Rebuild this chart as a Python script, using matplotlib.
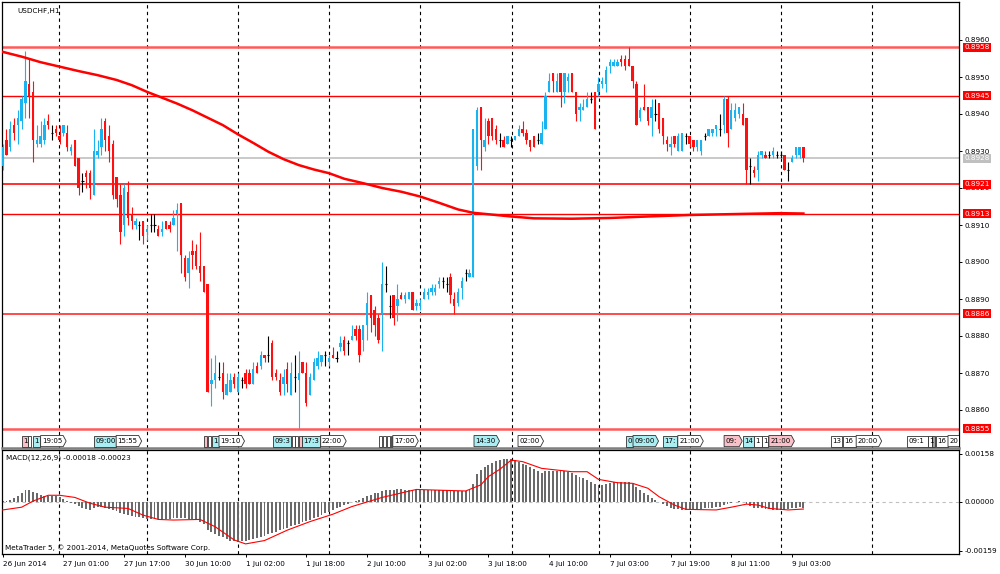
import matplotlib
matplotlib.use("Agg")
import matplotlib.pyplot as plt
from matplotlib.patches import Polygon
from matplotlib.transforms import blended_transform_factory

# USDCHF H1, one entry per bar (bar 0 = 26 Jun 2014 09:00)
opens = [
    0.8926, 0.8933, 0.8931, 0.8937, 0.8937, 0.8938, 0.8943, 0.8948, 0.8946, 0.8932,
    0.8932, 0.8933, 0.8938, 0.8935, 0.8936, 0.8934, 0.8935, 0.8935, 0.8930, 0.8933,
    0.8928, 0.8922, 0.8924, 0.8924, 0.8918, 0.8929, 0.8931, 0.8938, 0.8934, 0.8932,
    0.8923, 0.8918, 0.8910, 0.8919, 0.8913, 0.8910, 0.8910, 0.8911, 0.8908, 0.8910,
    0.8910, 0.8909, 0.8908, 0.8911, 0.8910, 0.8910, 0.8913, 0.8916, 0.8901, 0.8897,
    0.8903, 0.8903, 0.8899, 0.8899, 0.8894, 0.8867, 0.8868, 0.8869, 0.8870, 0.8864,
    0.8865, 0.8869, 0.8865, 0.8868, 0.8870, 0.8870, 0.8867, 0.8872, 0.8872, 0.8875,
    0.8875, 0.8878, 0.8870, 0.8868, 0.8867, 0.8871, 0.8864, 0.8869, 0.8868, 0.8873,
    0.8870, 0.8864, 0.8868, 0.8872, 0.8873, 0.8875, 0.8873, 0.8875, 0.8874, 0.8877,
    0.8879, 0.8878, 0.8879, 0.8882, 0.8882, 0.8879, 0.8883, 0.8891, 0.8887, 0.8885,
    0.8886, 0.8894, 0.8888, 0.8891, 0.8888, 0.8891, 0.8890, 0.8890, 0.8892, 0.8888,
    0.8888, 0.8890, 0.8891, 0.8892, 0.8892, 0.8894, 0.8895, 0.8894, 0.8896, 0.8890,
    0.8889, 0.8893, 0.8897, 0.8896, 0.8896, 0.8926, 0.8942, 0.8931, 0.8938, 0.8939,
    0.8936, 0.8933, 0.8933, 0.8932, 0.8933, 0.8933, 0.8934, 0.8936, 0.8935, 0.8933,
    0.8934, 0.8933, 0.8932, 0.8936, 0.8946, 0.8951, 0.8946, 0.8951, 0.8946, 0.8949,
    0.8951, 0.8946, 0.8941, 0.8941, 0.8942, 0.8944, 0.8946, 0.8946, 0.8948, 0.8948,
    0.8953, 0.8953, 0.8953, 0.8955, 0.8955, 0.8955, 0.8953, 0.8948, 0.8939, 0.8942,
    0.8942, 0.8939, 0.8940, 0.8943, 0.8939, 0.8933, 0.8931, 0.8934, 0.8930, 0.8930,
    0.8934, 0.8934, 0.8933, 0.8931, 0.8930, 0.8934, 0.8934, 0.8935, 0.8936, 0.8936,
    0.8937, 0.8944, 0.8936, 0.8939, 0.8940, 0.8940, 0.8939, 0.8926, 0.8925, 0.8925,
    0.8929, 0.8929, 0.8929, 0.8929, 0.8929, 0.8929, 0.8929, 0.8925, 0.8927, 0.8929,
    0.8929, 0.8931,
]
highs = [
    0.8932, 0.8936, 0.8938, 0.8939, 0.8941, 0.8945, 0.8957, 0.8955, 0.8949, 0.8937,
    0.8938, 0.8939, 0.8940, 0.8937, 0.8937, 0.8937, 0.8937, 0.8937, 0.8932, 0.8933,
    0.8928, 0.8924, 0.8925, 0.8925, 0.8936, 0.8933, 0.8939, 0.8939, 0.8937, 0.8933,
    0.8923, 0.8921, 0.8921, 0.8922, 0.8915, 0.8912, 0.8911, 0.8911, 0.8910, 0.8913,
    0.8913, 0.8910, 0.8911, 0.8911, 0.8911, 0.8914, 0.8916, 0.8916, 0.8902, 0.8903,
    0.8906, 0.8905, 0.8908, 0.8899, 0.8894, 0.8874, 0.8875, 0.8873, 0.8873, 0.8870,
    0.8870, 0.8870, 0.8870, 0.8869, 0.8871, 0.8871, 0.8873, 0.8873, 0.8876, 0.8875,
    0.8880, 0.8879, 0.8871, 0.8870, 0.8871, 0.8873, 0.8873, 0.8875, 0.8876, 0.8873,
    0.8873, 0.8870, 0.8874, 0.8876, 0.8875, 0.8876, 0.8875, 0.8877, 0.8876, 0.8880,
    0.8880, 0.8879, 0.8883, 0.8883, 0.8883, 0.8883, 0.8892, 0.8891, 0.8888, 0.8886,
    0.8900, 0.8899, 0.8891, 0.8891, 0.8894, 0.8892, 0.8892, 0.8892, 0.8892, 0.8890,
    0.8890, 0.8893, 0.8893, 0.8894, 0.8894, 0.8896, 0.8896, 0.8896, 0.8897, 0.8892,
    0.8893, 0.8896, 0.8898, 0.8898, 0.8936, 0.8942, 0.8942, 0.8939, 0.8939, 0.8939,
    0.8937, 0.8935, 0.8934, 0.8934, 0.8934, 0.8934, 0.8937, 0.8938, 0.8936, 0.8933,
    0.8934, 0.8935, 0.8938, 0.8946, 0.8951, 0.8951, 0.8951, 0.8951, 0.8951, 0.8951,
    0.8951, 0.8946, 0.8943, 0.8944, 0.8946, 0.8946, 0.8946, 0.8950, 0.8950, 0.8953,
    0.8955, 0.8955, 0.8955, 0.8956, 0.8956, 0.8958, 0.8953, 0.8949, 0.8942, 0.8948,
    0.8942, 0.8944, 0.8944, 0.8943, 0.8939, 0.8934, 0.8934, 0.8934, 0.8935, 0.8935,
    0.8935, 0.8934, 0.8933, 0.8933, 0.8933, 0.8935, 0.8936, 0.8936, 0.8937, 0.8940,
    0.8945, 0.8945, 0.8943, 0.8943, 0.8942, 0.8943, 0.8939, 0.8928, 0.8926, 0.8930,
    0.8930, 0.8930, 0.8930, 0.8931, 0.8930, 0.8930, 0.8929, 0.8927, 0.8929, 0.8931,
    0.8931, 0.8931,
]
lows = [
    0.8925, 0.8929, 0.8930, 0.8933, 0.8932, 0.8936, 0.8939, 0.8939, 0.8927, 0.8931,
    0.8931, 0.8932, 0.8936, 0.8933, 0.8934, 0.8932, 0.8934, 0.8930, 0.8929, 0.8926,
    0.8918, 0.8919, 0.8920, 0.8917, 0.8918, 0.8928, 0.8929, 0.8930, 0.8927, 0.8917,
    0.8915, 0.8905, 0.8907, 0.8910, 0.8909, 0.8909, 0.8906, 0.8905, 0.8906, 0.8908,
    0.8908, 0.8907, 0.8907, 0.8909, 0.8908, 0.8910, 0.8903, 0.8897, 0.8895, 0.8893,
    0.8898, 0.8898, 0.8895, 0.8892, 0.8865, 0.8861, 0.8866, 0.8868, 0.8863, 0.8864,
    0.8865, 0.8866, 0.8865, 0.8866, 0.8866, 0.8867, 0.8867, 0.8870, 0.8871, 0.8873,
    0.8873, 0.8868, 0.8868, 0.8864, 0.8864, 0.8865, 0.8864, 0.8865, 0.8855, 0.8870,
    0.8861, 0.8864, 0.8868, 0.8871, 0.8872, 0.8872, 0.8872, 0.8874, 0.8873, 0.8876,
    0.8875, 0.8875, 0.8879, 0.8879, 0.8873, 0.8876, 0.8879, 0.8881, 0.8880, 0.8878,
    0.8876, 0.8892, 0.8885, 0.8883, 0.8884, 0.8890, 0.8889, 0.8890, 0.8887, 0.8887,
    0.8887, 0.8890, 0.8890, 0.8891, 0.8891, 0.8893, 0.8893, 0.8892, 0.8889, 0.8886,
    0.8888, 0.8890, 0.8895, 0.8896, 0.8896, 0.8925, 0.8925, 0.8930, 0.8932, 0.8933,
    0.8932, 0.8931, 0.8931, 0.8932, 0.8931, 0.8933, 0.8934, 0.8934, 0.8932, 0.8930,
    0.8931, 0.8932, 0.8932, 0.8936, 0.8946, 0.8946, 0.8946, 0.8942, 0.8943, 0.8946,
    0.8946, 0.8938, 0.8938, 0.8941, 0.8942, 0.8943, 0.8936, 0.8945, 0.8947, 0.8946,
    0.8951, 0.8953, 0.8953, 0.8953, 0.8952, 0.8953, 0.8947, 0.8937, 0.8938, 0.8941,
    0.8937, 0.8934, 0.8938, 0.8935, 0.8932, 0.8930, 0.8929, 0.8931, 0.8930, 0.8930,
    0.8932, 0.8931, 0.8930, 0.8930, 0.8929, 0.8933, 0.8934, 0.8934, 0.8934, 0.8934,
    0.8935, 0.8931, 0.8936, 0.8938, 0.8939, 0.8937, 0.8921, 0.8921, 0.8923, 0.8922,
    0.8928, 0.8928, 0.8928, 0.8928, 0.8928, 0.8928, 0.8925, 0.8922, 0.8927, 0.8928,
    0.8928, 0.8927,
]
closes = [
    0.8931, 0.8929, 0.8936, 0.8935, 0.8939, 0.8944, 0.8949, 0.8945, 0.8933, 0.8933,
    0.8934, 0.8937, 0.8937, 0.8935, 0.8935, 0.8933, 0.8937, 0.8931, 0.8931, 0.8926,
    0.8920, 0.8922, 0.8923, 0.8920, 0.8930, 0.8930, 0.8936, 0.8933, 0.8930, 0.8918,
    0.8917, 0.8908, 0.8920, 0.8912, 0.8911, 0.8911, 0.8910, 0.8907, 0.8909, 0.8910,
    0.8910, 0.8907, 0.8909, 0.8909, 0.8909, 0.8912, 0.8914, 0.8902, 0.8896, 0.8901,
    0.8902, 0.8899, 0.8897, 0.8892, 0.8865, 0.8868, 0.8870, 0.8869, 0.8865, 0.8867,
    0.8868, 0.8867, 0.8869, 0.8868, 0.8867, 0.8867, 0.8871, 0.8870, 0.8875, 0.8874,
    0.8875, 0.8869, 0.8869, 0.8865, 0.8869, 0.8867, 0.8870, 0.8869, 0.8870, 0.8870,
    0.8862, 0.8869, 0.8873, 0.8874, 0.8875, 0.8875, 0.8874, 0.8874, 0.8874, 0.8878,
    0.8876, 0.8878, 0.8880, 0.8880, 0.8875, 0.8883, 0.8889, 0.8885, 0.8883, 0.8879,
    0.8894, 0.8894, 0.8888, 0.8885, 0.8890, 0.8890, 0.8891, 0.8892, 0.8887, 0.8889,
    0.8889, 0.8892, 0.8892, 0.8893, 0.8893, 0.8895, 0.8895, 0.8894, 0.8891, 0.8888,
    0.8892, 0.8895, 0.8897, 0.8897, 0.8936, 0.8941, 0.8933, 0.8933, 0.8934, 0.8934,
    0.8933, 0.8933, 0.8931, 0.8934, 0.8933, 0.8934, 0.8936, 0.8935, 0.8933, 0.8931,
    0.8931, 0.8933, 0.8935, 0.8945, 0.8949, 0.8949, 0.8949, 0.8946, 0.8951, 0.8950,
    0.8946, 0.8940, 0.8942, 0.8942, 0.8944, 0.8944, 0.8936, 0.8948, 0.8949, 0.8952,
    0.8954, 0.8954, 0.8954, 0.8954, 0.8953, 0.8953, 0.8949, 0.8937, 0.8941, 0.8941,
    0.8938, 0.8942, 0.8940, 0.8936, 0.8934, 0.8932, 0.8932, 0.8932, 0.8934, 0.8935,
    0.8934, 0.8932, 0.8931, 0.8933, 0.8933, 0.8934, 0.8936, 0.8936, 0.8937, 0.8936,
    0.8944, 0.8935, 0.8941, 0.8941, 0.8942, 0.8937, 0.8925, 0.8926, 0.8924, 0.8929,
    0.8930, 0.8928, 0.8929, 0.8930, 0.8929, 0.8929, 0.8925, 0.8925, 0.8928, 0.8931,
    0.8931, 0.8928,
]

# moving average
ma_bars = [0, 5, 10, 15, 20, 25, 30, 34, 38, 42, 46, 50, 54, 58, 62, 66, 70, 74, 78, 82,
           86, 90, 95, 100, 105, 110, 115, 120, 124, 129, 134, 140, 150, 160, 170, 181,
           195, 205, 211]
ma_vals = [0.89568, 0.89555, 0.89540, 0.89528, 0.89516, 0.89505, 0.89492, 0.89478,
           0.89460, 0.89444, 0.89428, 0.89410, 0.89390, 0.89370, 0.89345, 0.89322,
           0.89298, 0.89278, 0.89262, 0.89250, 0.89240, 0.89225, 0.89213, 0.89200,
           0.89190, 0.89177, 0.89160, 0.89142, 0.89133, 0.89128, 0.89123, 0.89118,
           0.89117, 0.89119, 0.89123, 0.89127, 0.89130, 0.89132, 0.89131]

# MACD(12,26,9) histogram, in units of 0.00001, one per bar
macd_hist = [
    2, 3, 5, 12, 20, 30, 39, 38, 34, 28,
    23, 21, 20, 19, 18, 17, 10, 4, -2, -8,
    -14, -20, -24, -26, -20, -15, -16, -19, -22, -25,
    -30, -35, -40, -44, -47, -49, -50, -52, -54, -55,
    -55, -55, -55, -55, -54, -53, -52, -52, -53, -54,
    -55, -60, -66, -72, -90, -98, -104, -110, -116, -122,
    -126, -129, -130, -129, -126, -123, -121, -118, -114, -110,
    -106, -101, -97, -93, -88, -84, -80, -76, -71, -67,
    -63, -58, -53, -48, -43, -37, -32, -27, -21, -16,
    -10, -5, 0, 4, 8, 13, 20, 24, 28, 31,
    35, 38, 40, 40, 41, 41, 40, 40, 40, 40,
    39, 39, 38, 38, 38, 38, 38, 38, 37, 36,
    35, 35, 36, 38, 60, 90, 105, 115, 122, 128,
    134, 138, 140, 141, 140, 136, 130, 125, 120, 115,
    108, 100, 96, 100, 102, 102, 101, 100, 100, 98,
    95, 88, 82, 78, 72, 64, 58, 55, 57, 60,
    63, 65, 66, 66, 65, 64, 58, 50, 40, 30,
    22, 12, 6, 0, -6, -12, -18, -22, -24, -25,
    -25, -24, -24, -23, -22, -20, -19, -18, -17, -15,
    -10, -8, -4, -1, 2, 1, -8, -14, -18, -20,
    -21, -23, -24, -25, -25, -25, -26, -24, -21, -19,
    -17, -18,
]
# signal line, units of 0.00001
signal_bars = [0, 5, 8, 12, 15, 19, 23, 27, 33, 37, 41, 45, 52, 56, 61, 64, 69, 75, 81, 87,
               92, 100, 109, 114, 122, 126, 128, 131, 134, 137, 142, 150, 154, 157, 162,
               166, 170, 173, 177, 180, 188, 192, 196, 199, 202, 207, 211]
signal_vals = [-26, -17, 3, 22, 22, 15, -4, -17, -21, -43, -57, -59, -57, -81, -124,
               -137, -126, -92, -64, -40, -15, 15, 41, 39, 36, 56, 83, 107, 137, 132,
               110, 99, 99, 74, 63, 61, 45, 17, -10, -24, -26, -17, -7, -10, -21, -26, -23]

level_prices = [0.8958, 0.8945, 0.8921, 0.8913, 0.8886, 0.8855]
level_colors = ['#ff5a5a', 'red', '#ff3030', 'red', '#ff4a4a', '#ff5a5a']
level_widths = [1.8, 1.0, 1.4, 1.0, 1.4, 1.8]
bid_price = 0.8928

price_ticks = [0.8860, 0.8870, 0.8880, 0.8890, 0.8900, 0.8910, 0.8920, 0.8930, 0.8940,
               0.8950, 0.8960]
macd_ticks = [0.00158, 0.0, -0.00159]
macd_tick_labels = ['0.00158', '0.00000', '-0.00159']
time_ticks = [0, 16, 32, 48, 64, 80, 96, 112, 128, 144, 160, 176, 192, 208]
time_labels = ['26 Jun 2014', '27 Jun 01:00', '27 Jun 17:00', '30 Jun 10:00', '1 Jul 02:00',
               '1 Jul 18:00', '2 Jul 10:00', '3 Jul 02:00', '3 Jul 18:00', '4 Jul 10:00',
               '7 Jul 03:00', '7 Jul 19:00', '8 Jul 11:00', '9 Jul 03:00']
grid_bars = [14.9, 37.9, 61.9, 86.0, 110.0, 134.1, 157.1, 181.1, 205.1, 229.1]

# economic calendar marks along the bottom of the price window (text as visible)
ev_bars = [5.0, 6.7, 7.9, 10.0, 24.1, 29.9, 53.0, 54.0, 55.2, 57.0, 71.2, 76.2, 77.1, 78.0,
           78.9, 83.8, 99.2, 100.3, 101.3, 102.2, 102.8, 124.2, 135.8, 164.2, 166.1, 174.0,
           177.9, 190.1, 195.1, 198.0, 200.1, 201.9, 218.3, 221.4, 224.9, 238.3, 243.8,
           244.9, 245.9, 249.1]
ev_texts = ['1', '', '1', '19:05', '09:00', '15:55', '', '', '1', '19:10', '09:3', '', '',
            '', '17:3', '22:00', '', '', '', '', '17:00', '14:30', '02:00', '0', '09:00',
            '17:', '21:00', '09:', '14', '1', '1', '21:00', '13', '16', '20:00', '09:1',
            '1', '', '16', '20']
ev_kinds = ['pink', 'white', 'blue', 'white', 'blue', 'white', 'pink', 'white', 'blue',
            'white', 'blue', 'white', 'white', 'pink', 'blue', 'white', 'white', 'white',
            'white', 'white', 'white', 'blue', 'white', 'blue', 'blue', 'blue', 'white',
            'pink', 'blue', 'white', 'white', 'pink', 'white', 'white', 'white', 'white',
            'white', 'gray', 'white', 'white']
ev_fill = {'pink': '#f9c0c8', 'blue': '#a8eef2', 'white': 'white', 'gray': '#a0a0a0'}

plt.rcParams['font.family'] = 'DejaVu Sans'
plt.rcParams['font.size'] = 5.2

W, H = 1000, 574
fig = plt.figure(figsize=(W / 100, H / 100), dpi=100)
fig.patch.set_facecolor('white')

# pixel layout of the two panes
left_px, right_px = 2, 959
ax = fig.add_axes([left_px / W, 1 - 448 / H, (right_px - left_px) / W, 446 / H])
axm = fig.add_axes([left_px / W, 1 - 554 / H, (right_px - left_px) / W, 104 / H], sharex=ax)

x_lo, x_hi = -0.18, 252.0
px_per_bar = (right_px - left_px) / (x_hi - x_lo)
ax.set_xlim(x_lo, x_hi)
# 0.8960 sits 38 px below the top, 37000 px per unit of price
ax.set_ylim(0.8960 - 408 / 37000, 0.8960 + 38 / 37000)
axm.set_ylim(-0.0017, 0.0017)

bull, bear = '#19b3f0', '#ff1010'

# grid
for a in (ax, axm):
    for g in grid_bars:
        a.axvline(g, color='black', lw=0.8, dashes=(3, 3), zorder=1)

# horizontal levels
for p, c, lw in zip(level_prices, level_colors, level_widths):
    ax.axhline(p, color=c, lw=lw, zorder=1.5)
ax.axhline(bid_price, color='#c0c0c0', lw=1.2, zorder=1.5)

# candles
for i, (o, h, l, c) in enumerate(zip(opens, highs, lows, closes)):
    if c > o:
        col = bull
    elif c < o:
        col = bear
    else:
        col = 'black'
    ax.vlines(i, l, h, color=col, lw=0.8, zorder=3)
    if c != o:
        ax.bar(i, abs(c - o), bottom=min(o, c), width=0.62, color=col, lw=0, zorder=3)
    else:
        ax.hlines(c, i - 0.3, i + 0.3, color=col, lw=0.8, zorder=3)

ax.plot(ma_bars, ma_vals, color='red', lw=1.8, zorder=4)

# calendar marks
ev_tr = blended_transform_factory(ax.transData, ax.transAxes)
y0, y1 = 0.003, 0.028
ym = (y0 + y1) / 2
for k, (b, txt, kind) in enumerate(zip(ev_bars, ev_texts, ev_kinds)):
    full_px = (4 + 3.7 * len(txt) + 3) if txt else 3
    full = full_px / px_per_bar
    nxt = ev_bars[k + 1] if k + 1 < len(ev_bars) else x_hi + 10
    w = min(full, nxt - b - 0.1)
    tip = 3 / px_per_bar if (txt and w >= full) else 0
    pts = [(b, y0), (b + w - tip, y0), (b + w, ym), (b + w - tip, y1), (b, y1)]
    poly = Polygon(pts, closed=True, transform=ev_tr, facecolor=ev_fill[kind],
                   edgecolor='#303030', lw=0.6, zorder=5)
    ax.add_patch(poly)
    if txt:
        t = ax.text(b + 1.3 / px_per_bar, ym, txt, transform=ev_tr, fontsize=5.0,
                    va='center', ha='left', color='black', zorder=6, clip_on=True)
        t.set_clip_path(poly)

# MACD pane
axm.axhline(0, color='#c0c0c0', lw=0.8, dashes=(3, 3), zorder=0.5)
axm.bar(range(len(macd_hist)), [v * 1e-5 for v in macd_hist], width=0.5,
        color='#6a6a6a', lw=0, zorder=2)
axm.plot(signal_bars, [v * 1e-5 for v in signal_vals], color='red', lw=0.8, zorder=3)

# axes cosmetics
for a in (ax, axm):
    a.set_facecolor('white')
    for s in a.spines.values():
        s.set_color('black')
        s.set_linewidth(0.9)
    a.yaxis.tick_right()
    a.tick_params(axis='y', direction='out', length=2.5, width=0.7, pad=1.5,
                  labelsize=5.2, colors='black')
ax.spines['bottom'].set_color('#808080')
ax.spines['bottom'].set_linewidth(1.8)

ax.set_yticks(price_ticks)
ax.set_yticklabels(['%.4f' % p for p in price_ticks])
ax.tick_params(axis='x', which='both', bottom=False, labelbottom=False)

axm.set_yticks(macd_ticks)
axm.set_yticklabels(macd_tick_labels)
axm.set_xticks(time_ticks)
axm.set_xticklabels(time_labels)
axm.tick_params(axis='x', direction='out', length=2.5, width=0.7, pad=2.5, labelsize=5.2)
for lab in axm.get_xticklabels():
    lab.set_ha('left')

# price tags on the right scale
tag_tr = blended_transform_factory(ax.transAxes, ax.transData)
for p in level_prices:
    ax.text(1.0055, p, '%.4f' % p, transform=tag_tr, color='white', fontsize=5.2,
            va='center', ha='left', zorder=10, clip_on=False,
            bbox=dict(boxstyle='square,pad=0.22', fc='red', ec='none'))
ax.text(1.0055, bid_price, '%.4f' % bid_price, transform=tag_tr, color='white', fontsize=5.2,
        va='center', ha='left', zorder=10, clip_on=False,
        bbox=dict(boxstyle='square,pad=0.22', fc='#c0c0c0', ec='none'))

ax.text(0.0157, 0.98, 'USDCHF,H1', transform=ax.transAxes, fontsize=5.2, va='center')
axm.text(0.0042, 0.923, 'MACD(12,26,9) -0.00018 -0.00023', transform=axm.transAxes,
         fontsize=5.2, va='center')
axm.text(0.003, 0.065, 'MetaTrader 5, \u00a9 2001-2014, MetaQuotes Software Corp.',
         transform=axm.transAxes, fontsize=5.2, va='center', zorder=10)

fig.savefig('out.png', dpi=100, facecolor='white')
